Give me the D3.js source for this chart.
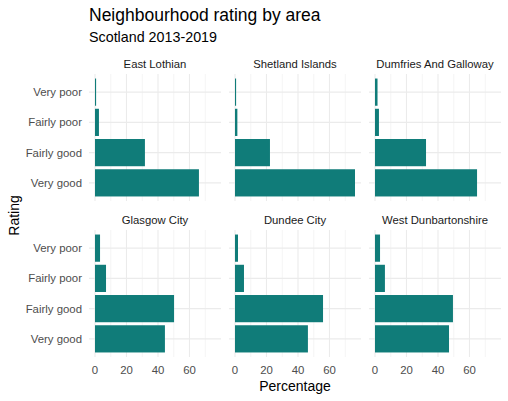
<!DOCTYPE html>
<html>
<head>
<meta charset="utf-8">
<script src="https://cdn.jsdelivr.net/npm/d3@7"></script>
<style>
  body { margin: 0; background: #fff; }
  text { font-family: "Liberation Sans", Arial, sans-serif; }
</style>
</head>
<body>
<div id="canvas"></div>
<script>
// data
const areas = ["East Lothian", "Shetland Islands", "Dumfries And Galloway",
  "Glasgow City", "Dundee City", "West Dunbartonshire"];
const ratings = ["Very poor", "Fairly poor", "Fairly good", "Very good"];
const veryPoor = [0.7, 0.7, 1.6, 3.2, 1.9, 3.2];
const fairlyPoor = [2.5, 1.5, 2.5, 7.0, 5.7, 6.3];
const fairlyGood = [31.7, 22.2, 32.4, 50.2, 55.9, 49.5];
const veryGood = [66.0, 76.2, 64.8, 44.4, 46.3, 47.0];
const xTicks = [0, 20, 40, 60];
const xMinor = [10, 30, 50, 70];

const width = 508, height = 401;
const svg = d3.select("#canvas").append("svg")
  .attr("width", width).attr("height", height);

const panelW = 132, panelH = 127;
const panelX = [89, 229, 369];
const panelY = [74, 230];

const maxVal = d3.max([veryPoor, fairlyPoor, fairlyGood, veryGood].flat());
const pad = maxVal * 0.05;
const x = d3.scaleLinear().domain([-pad, maxVal + pad]).range([0, panelW]);
// ratings listed top to bottom
const y = d3.scaleBand().domain(ratings).range([0, panelH]).paddingInner(0.1).paddingOuter(0.15);

const series = [veryPoor, fairlyPoor, fairlyGood, veryGood];

areas.forEach(function (area, i) {
  const col = i % 3, row = Math.floor(i / 3);
  const g = svg.append("g")
    .attr("transform", "translate(" + panelX[col] + "," + panelY[row] + ")");

  // minor grid
  g.selectAll(".minor").data(xMinor).enter().append("line")
    .attr("x1", d => x(d)).attr("x2", d => x(d))
    .attr("y1", 0).attr("y2", panelH)
    .attr("stroke", "#ebebeb").attr("stroke-width", 0.55);

  // major grid
  g.selectAll(".major").data(xTicks).enter().append("line")
    .attr("x1", d => x(d)).attr("x2", d => x(d))
    .attr("y1", 0).attr("y2", panelH)
    .attr("stroke", "#ebebeb").attr("stroke-width", 1.1);

  g.selectAll(".hgrid").data(ratings).enter().append("line")
    .attr("x1", 0).attr("x2", panelW)
    .attr("y1", d => y(d) + y.bandwidth() / 2).attr("y2", d => y(d) + y.bandwidth() / 2)
    .attr("stroke", "#ebebeb").attr("stroke-width", 1.1);

  // bars
  g.selectAll(".bar").data(ratings).enter().append("rect")
    .attr("x", x(0))
    .attr("y", d => y(d))
    .attr("width", (d, k) => x(series[k][i]) - x(0))
    .attr("height", y.bandwidth())
    .attr("fill", "#107c79");

  // strip label
  g.append("text")
    .attr("x", panelW / 2).attr("y", -6)
    .attr("text-anchor", "middle")
    .style("font-size", "11.3px").style("fill", "#1a1a1a")
    .text(area);

  // y labels for first column
  if (col === 0) {
    g.selectAll(".ylab").data(ratings).enter().append("text")
      .attr("x", -7)
      .attr("y", d => y(d) + y.bandwidth() / 2)
      .attr("dy", "0.35em")
      .attr("text-anchor", "end")
      .style("font-size", "11.4px").style("fill", "#4d4d4d")
      .text(d => d);
  }

  // x labels for bottom row
  if (row === 1) {
    g.selectAll(".xlab").data(xTicks).enter().append("text")
      .attr("x", d => x(d))
      .attr("y", panelH + 13)
      .attr("dy", "0.35em")
      .attr("text-anchor", "middle")
      .style("font-size", "11.4px").style("fill", "#4d4d4d")
      .text(d => d);
  }
});

// axis titles
svg.append("text")
  .attr("x", (panelX[0] + panelX[2] + panelW) / 2).attr("y", 391)
  .attr("text-anchor", "middle")
  .style("font-size", "14px").style("fill", "#000")
  .text("Percentage");

svg.append("text")
  .attr("transform", "translate(19," + ((panelY[0] + panelY[1] + panelH) / 2) + ") rotate(-90)")
  .attr("text-anchor", "middle")
  .style("font-size", "14px").style("fill", "#000")
  .text("Rating");

// title and subtitle
svg.append("text")
  .attr("x", 89).attr("y", 21)
  .style("font-size", "17.5px").style("fill", "#000")
  .text("Neighbourhood rating by area");

svg.append("text")
  .attr("x", 89).attr("y", 42)
  .style("font-size", "14.3px").style("fill", "#000")
  .text("Scotland 2013-2019");
</script>
</body>
</html>
